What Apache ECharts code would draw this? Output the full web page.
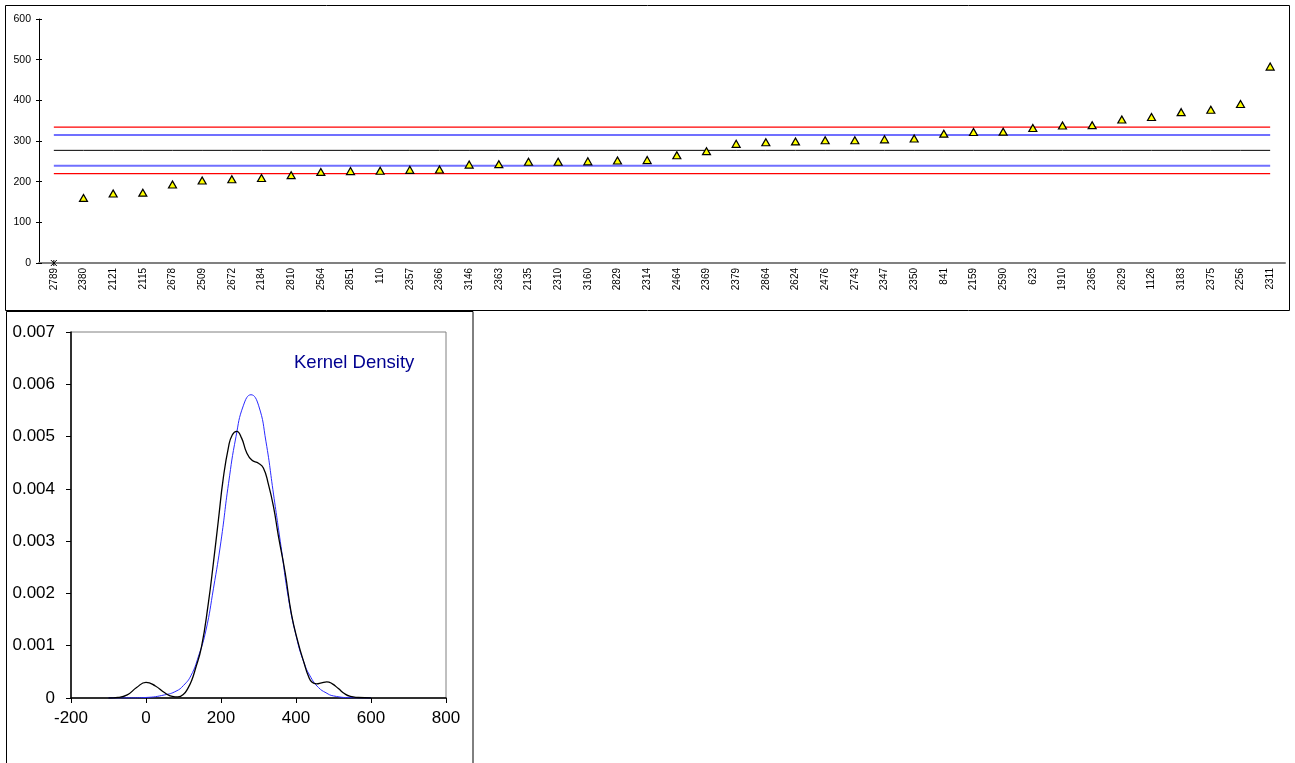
<!DOCTYPE html>
<html>
<head>
<meta charset="utf-8">
<script src="https://cdn.jsdelivr.net/npm/echarts@6/dist/echarts.min.js"></script>
<style>
html,body{margin:0;padding:0;background:#fff;}
#c{width:1295px;height:763px;}
</style>
</head>
<body>
<div id="c"></div>
<script>
// ---- Top chart data ----
const categories = ['2789','2380','2121','2115','2678','2509','2672','2184','2810','2564','2851','110','2357','2366','3146','2363','2135','2310','3160','2829','2314','2464','2369','2379','2864','2624','2476','2743','2347','2350','841','2159','2590','623','1910','2365','2629','1126','3183','2375','2256','2311'];
const values = [0,160,171,173,193,203,206,209,216,224,226,227,229,230,242,243,249,249,250,252,253,265,275,293,297,299,302,302,304,306,318,322,323,332,338,339,353,359,371,377,391,483];
const outlierIdx = [0];
const yTicksTop = [0,100,200,300,400,500,600];
// reference lines
const refValues = [334, 315, 277, 239, 220];
const refColors = ['#ff0000', '#7070ff', '#000000', '#7070ff', '#ff0000'];
const refWidths = [1.3, 2, 1, 2, 1.3];

// ---- Bottom chart data ----
const kernelX = [-100,-75,-50,-25,0,25,50,70,85,100,112,122,131,148,166,180,193,206,220,230,242,255,268,282,300,313,326,340,353,371,388,406,422,433,443,455,468,482,497,513,530,545,566,600];
const kernelY = [0,0.00001,0.00006,0.0002,0.0003,0.00023,0.0001,0.00003,0.00002,0.00007,0.00019,0.00034,0.00054,0.00098,0.0018,0.0026,0.0034,0.0042,0.0048,0.00503,0.0051,0.00497,0.0047,0.00455,0.00449,0.0044,0.0041,0.00366,0.0031,0.0024,0.0016,0.00105,0.00066,0.00042,0.0003,0.00027,0.00029,0.00031,0.00027,0.00018,0.00008,0.00003,0.00001,0];
const normalX = [-100,-50,0,50,80,100,120,140,160,180,200,220,240,260,280,300,320,340,360,380,400,420,440,460,480,500,550,600];
const normalY = [0,0.000001,0.00001,0.00006,0.00013,0.00024,0.00043,0.0008,0.0013,0.0021,0.003,0.0041,0.005,0.0056,0.0058,0.0056,0.0049,0.0039,0.0029,0.0019,0.0012,0.0007,0.00039,0.0002,0.0001,0.00004,0.000005,0];
const densityTitle = 'Kernel Density';

const FONT = 'Arial, "Liberation Sans", sans-serif';
const chart = echarts.init(document.getElementById('c'), null, {renderer: 'canvas'});

const triData = values.map((v, i) => outlierIdx.includes(i) ? '-' : v);
const outData = values.map((v, i) => outlierIdx.includes(i) ? v : '-');

const refSeries = refValues.map((v, i) => ({
  type: 'line', xAxisIndex: 0, yAxisIndex: 0,
  data: categories.map(() => v),
  showSymbol: false, symbol: 'none', silent: true,
  itemStyle: {color: refColors[i]},
  lineStyle: {color: refColors[i], width: refWidths[i], type: 'solid'},
  emphasis: {disabled: true},
  z: 2
}));

const option = {
  animation: false,
  backgroundColor: '#fff',
  grid: [
    {left: 39, right: 10, top: 19, bottom: 500, containLabel: false},
    {left: 71, width: 375, top: 332, height: 366, show: true, borderColor: '#808080', borderWidth: 1, backgroundColor: 'transparent'}
  ],
  xAxis: [
    {
      type: 'category', gridIndex: 0, data: categories, boundaryGap: true,
      axisLine: {lineStyle: {color: '#808080', width: 2}},
      axisTick: {show: false},
      axisLabel: {rotate: 90, interval: 0, fontSize: 10, fontFamily: FONT, color: '#000', margin: 5}
    },
    {
      type: 'value', gridIndex: 1, min: -200, max: 800, interval: 200,
      splitLine: {show: false},
      axisLine: {onZero: false, lineStyle: {color: '#000', width: 1.5}},
      axisTick: {show: true, length: 5, lineStyle: {color: '#000'}},
      axisLabel: {fontSize: 17, fontFamily: FONT, color: '#000', margin: 12}
    }
  ],
  yAxis: [
    {
      type: 'value', gridIndex: 0, min: yTicksTop[0], max: yTicksTop[yTicksTop.length - 1], interval: 100,
      splitLine: {show: false},
      axisLine: {show: true, lineStyle: {color: '#000', width: 1}},
      axisTick: {show: true, length: 3, lineStyle: {color: '#000'}},
      axisLabel: {fontSize: 10.5, fontFamily: FONT, color: '#000', margin: 8}
    },
    {
      type: 'value', gridIndex: 0, min: 0, max: 600, interval: 100, position: 'left',
      splitLine: {show: false}, axisLine: {show: false},
      axisTick: {show: true, inside: true, length: 3, lineStyle: {color: '#000'}},
      axisLabel: {show: false}
    },
    {
      type: 'value', gridIndex: 1, min: 0, max: 0.007, interval: 0.001,
      splitLine: {show: false},
      axisLine: {show: true, onZero: false, lineStyle: {color: '#000', width: 1.5}},
      axisTick: {show: true, length: 5, lineStyle: {color: '#000'}},
      axisLabel: {fontSize: 17, fontFamily: FONT, color: '#000', margin: 16,
        formatter: v => String(+(+v).toFixed(3))}
    }
  ],
  series: refSeries.concat([
    {
      type: 'scatter', xAxisIndex: 0, yAxisIndex: 0, data: triData,
      symbol: 'triangle', symbolSize: [8, 7],
      itemStyle: {color: '#ffff00', borderColor: '#000', borderWidth: 1.2, opacity: 1},
      z: 5
    },
    {
      type: 'scatter', xAxisIndex: 0, yAxisIndex: 0, data: outData,
      symbol: 'path://M0,0L10,10M10,0L0,10M5,0L5,10', symbolSize: [6, 6],
      itemStyle: {color: 'none', borderColor: '#000', borderWidth: 1, opacity: 1},
      z: 6
    },
    {
      type: 'line', xAxisIndex: 1, yAxisIndex: 2, showSymbol: false, smooth: 0.5,
      data: normalX.map((x, i) => [x, normalY[i]]),
      lineStyle: {color: '#2a2aff', width: 1}, z: 3
    },
    {
      type: 'line', xAxisIndex: 1, yAxisIndex: 2, showSymbol: false, smooth: 0.5,
      data: kernelX.map((x, i) => [x, kernelY[i]]),
      lineStyle: {color: '#000', width: 1.3}, z: 4
    }
  ]),
  graphic: [
    {type: 'rect', shape: {x: 5.5, y: 5.5, width: 1284, height: 305}, style: {fill: 'none', stroke: '#000', lineWidth: 1}, z: 0, silent: true},
    {type: 'rect', shape: {x: 6.5, y: 311.5, width: 466.5, height: 460}, style: {fill: 'none', stroke: '#000', lineWidth: 1}, z: 0, silent: true},
    {type: 'text', x: 294, y: 363, style: {text: densityTitle, fill: '#000090', font: '18.5px ' + FONT, textVerticalAlign: 'middle'}, z: 10, silent: true}
  ]
};
chart.setOption(option);
</script>
</body>
</html>
